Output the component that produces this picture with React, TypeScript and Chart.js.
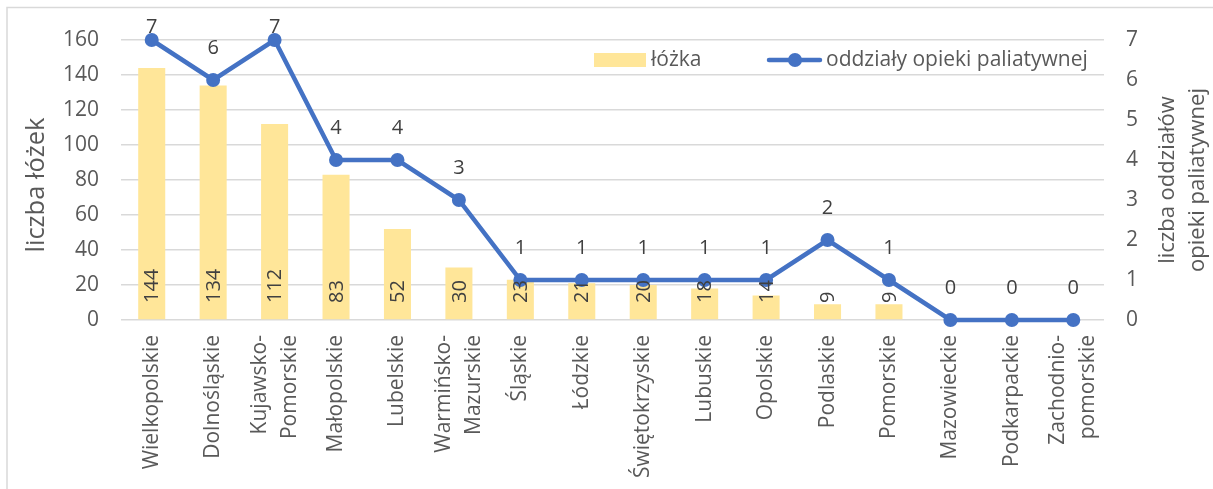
import React, { useEffect, useRef } from "react";
import { Chart, registerables } from "chart.js";

Chart.register(...registerables);

const categories: (string | string[])[] = [
  "Wielkopolskie",
  "Dolnośląskie",
  ["Kujawsko-", "Pomorskie"],
  "Małopolskie",
  "Lubelskie",
  ["Warmińsko-", "Mazurskie"],
  "Śląskie",
  "Łódzkie",
  "Świętokrzyskie",
  "Lubuskie",
  "Opolskie",
  "Podlaskie",
  "Pomorskie",
  "Mazowieckie",
  "Podkarpackie",
  ["Zachodnio-", "pomorskie"],
];

const beds: number[] = [144, 134, 112, 83, 52, 30, 23, 21, 20, 18, 14, 9, 9, 0, 0, 0];
const wards: number[] = [7, 6, 7, 4, 4, 3, 1, 1, 1, 1, 1, 2, 1, 0, 0, 0];

const bedsLabel = "łóżka";
const wardsLabel = "oddziały opieki paliatywnej";
const leftTitle = "liczba łóżek";
const rightTitle = ["liczba oddziałów", "opieki paliatywnej"];
const leftTicksMax = 160;
const rightTicksMax = 7;

const FONT = "'Open Sans', sans-serif";
const TEXT = "#595959";
const LABEL = "#404040";
const BAR = "#FFE699";
const LINE = "#4472C4";

const W = 1213;
const H = 489;

function fitFont(ctx: CanvasRenderingContext2D, text: string, target: number): string {
  ctx.font = `20px ${FONT}`;
  const w = ctx.measureText(text).width || 1;
  const size = (20 * target) / w;
  return `${size.toFixed(2)}px ${FONT}`;
}

const decorPlugin = {
  id: "decor",
  beforeDraw(chart: any) {
    const ctx = chart.ctx;
    ctx.save();
    ctx.strokeStyle = "#D9D9D9";
    ctx.lineWidth = 1.5;
    ctx.strokeRect(7, 7.5, W + 20, H + 20);
    ctx.restore();
  },
  afterDatasetsDraw(chart: any) {
    const ctx = chart.ctx;
    const area = chart.chartArea;
    ctx.save();
    const barMeta = chart.getDatasetMeta(0);
    ctx.font = `20px ${FONT}`;
    ctx.fillStyle = LABEL;
    barMeta.data.forEach((el: any, i: number) => {
      const v = beds[i];
      if (!v) return;
      ctx.save();
      ctx.translate(el.x, area.bottom - 17);
      ctx.rotate(-Math.PI / 2);
      ctx.textAlign = "left";
      ctx.textBaseline = "middle";
      ctx.fillText(String(v), 0, 1);
      ctx.restore();
    });
    const lineMeta = chart.getDatasetMeta(1);
    ctx.textAlign = "center";
    ctx.textBaseline = "middle";
    lineMeta.data.forEach((el: any, i: number) => {
      const y = Math.max(el.y - 32, 27);
      ctx.fillText(String(wards[i]), el.x, y);
    });
    ctx.restore();
  },
  afterDraw(chart: any) {
    const ctx = chart.ctx;
    const area = chart.chartArea;
    const cy = (area.top + area.bottom) / 2;
    ctx.save();
    ctx.fillStyle = TEXT;
    ctx.textBaseline = "middle";
    // category labels (rotated, multi-line centred on the tick)
    const xs = chart.scales.x;
    ctx.font = `21px ${FONT}`;
    ctx.textAlign = "right";
    const lh = 30;
    categories.forEach((lab, i) => {
      const lines = Array.isArray(lab) ? lab : [lab];
      const px = xs.getPixelForValue(i);
      lines.forEach((ln, j) => {
        const off = (j - (lines.length - 1) / 2) * lh;
        ctx.save();
        ctx.translate(px + off, area.bottom + 15);
        ctx.rotate(-Math.PI / 2);
        ctx.fillText(ln, 0, 0);
        ctx.restore();
      });
    });
    ctx.textAlign = "center";
    // left title
    ctx.save();
    ctx.font = fitFont(ctx, leftTitle, 135);
    ctx.translate(37, cy + 5);
    ctx.rotate(-Math.PI / 2);
    ctx.fillText(leftTitle, 0, 0);
    ctx.restore();
    // right title
    ctx.save();
    ctx.font = fitFont(ctx, rightTitle[1], 184);
    ctx.translate(1183, cy);
    ctx.rotate(-Math.PI / 2);
    ctx.fillText(rightTitle[0], 0, -15);
    ctx.fillText(rightTitle[1], 0, 15);
    ctx.restore();
    // legend
    ctx.font = fitFont(ctx, wardsLabel, 262);
    ctx.textAlign = "left";
    ctx.fillStyle = BAR;
    ctx.fillRect(594, 53, 52, 14);
    ctx.fillStyle = TEXT;
    ctx.fillText(bedsLabel, 651, 60);
    ctx.strokeStyle = LINE;
    ctx.lineWidth = 4.5;
    ctx.lineCap = "round";
    ctx.beginPath();
    ctx.moveTo(769, 60);
    ctx.lineTo(820, 60);
    ctx.stroke();
    ctx.fillStyle = LINE;
    ctx.beginPath();
    ctx.arc(795, 60, 7, 0, Math.PI * 2);
    ctx.fill();
    ctx.fillStyle = TEXT;
    ctx.fillText(wardsLabel, 826, 60);
    ctx.restore();
  },
};

export default function App() {
  const ref = useRef<HTMLCanvasElement | null>(null);
  useEffect(() => {
    if (!ref.current) return;
    const chart = new Chart(ref.current, {
      type: "bar",
      data: {
        labels: categories as any,
        datasets: [
          {
            type: "bar",
            label: bedsLabel,
            data: beds,
            backgroundColor: BAR,
            barPercentage: 0.44,
            categoryPercentage: 1,
            yAxisID: "y",
            order: 2,
          },
          {
            type: "line",
            label: wardsLabel,
            data: wards,
            borderColor: LINE,
            backgroundColor: LINE,
            borderWidth: 4.5,
            pointRadius: 7,
            pointBackgroundColor: LINE,
            pointBorderWidth: 0,
            tension: 0,
            clip: false,
            yAxisID: "y1",
            order: 1,
          } as any,
        ],
      },
      options: {
        responsive: false,
        animation: false,
        layout: { padding: { top: 40, left: 0, right: 0, bottom: 0 } },
        plugins: {
          legend: { display: false },
          tooltip: { enabled: false },
        },
        scales: {
          x: {
            grid: { display: false },
            border: { display: false },
            ticks: { display: false },
            afterFit(scale: any) {
              scale.height = H - 320;
            },
          },
          y: {
            position: "left",
            min: 0,
            max: leftTicksMax,
            ticks: {
              stepSize: 20,
              padding: 22,
              color: TEXT,
              font: { family: FONT, size: 21 },
            },
            grid: { color: "#D9D9D9", lineWidth: 1.5, drawTicks: false },
            border: { display: false },
            afterFit(scale: any) {
              scale.width = 121;
            },
          },
          y1: {
            position: "right",
            min: 0,
            max: rightTicksMax,
            ticks: {
              stepSize: 1,
              padding: 22,
              color: TEXT,
              font: { family: FONT, size: 21 },
            },
            grid: { display: false, drawTicks: false },
            border: { display: false },
            afterFit(scale: any) {
              scale.width = W - 1104;
            },
          },
        } as any,
      },
      plugins: [decorPlugin],
    });
    return () => chart.destroy();
  }, []);
  return (
    <div style={{ position: "absolute", left: 0, top: 0, width: W, height: H, overflow: "hidden", background: "#fff" }}>
      <canvas ref={ref} width={W} height={H} style={{ width: W, height: H, display: "block" }} />
    </div>
  );
}
